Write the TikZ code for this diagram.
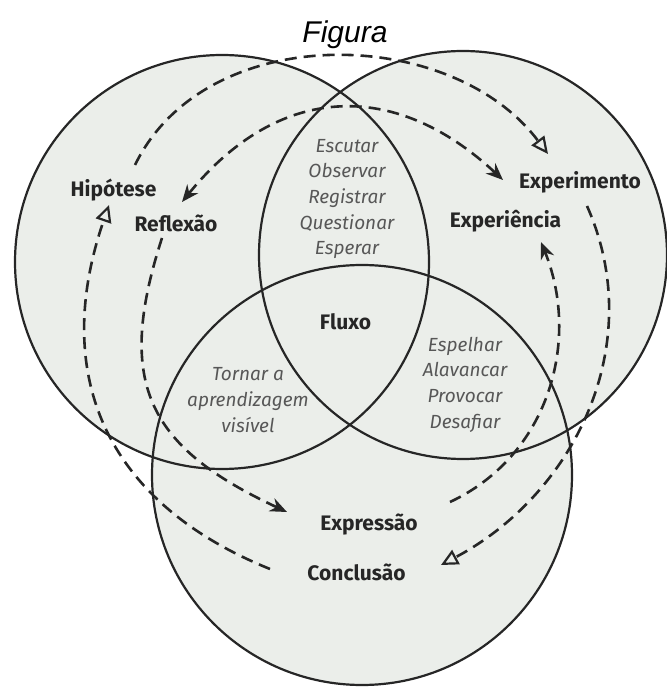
\documentclass[tikz,border=0pt]{standalone}
\usepackage{fontspec}
\setmainfont{Fira Sans}
\newfontfamily\titlefont{Liberation Sans}
\usetikzlibrary{arrows.meta}
\definecolor{ringfill}{HTML}{EBEEEA}
\definecolor{ink}{HTML}{262626}
\definecolor{soft}{HTML}{575757}
\tikzset{
  circ/.style={draw=ink, line width=2.2pt},
  lbl/.style={font=\fontsize{21}{25}\selectfont\bfseries, text=ink, inner sep=0pt, anchor=base},
  verbs/.style={font=\fontsize{19}{25.7}\selectfont\itshape, text=soft, align=center, inner sep=0pt},
  loopline/.style={draw=ink, line width=2.6pt, dash pattern=on 12pt off 7pt},
  outer/.style={loopline, -{Triangle[open, length=17pt, width=16pt, line width=2.2pt]}},
  inner/.style={loopline, -{Stealth[length=17pt, width=14pt]}},
  twoway/.style={loopline, {Stealth[length=17pt, width=14pt]}-{Stealth[length=17pt, width=14pt]}},
}
\begin{document}
\begin{tikzpicture}[x=1pt,y=1pt]
    \useasboundingbox (0,0) rectangle (667,689);

    \fill[ringfill] (222,427) circle (207);
    \fill[ringfill] (463,434) circle (204);
    \fill[ringfill] (362,214) circle (210);
    \draw[circ] (222,427) circle (207);
    \draw[circ] (463,434) circle (204);
    \draw[circ] (362,214) circle (210);

    \node[font=\fontsize{30}{34}\selectfont\titlefont\itshape, anchor=base] (title) at (345,646.5) {Figura};

    \node[lbl] (hip) at (113.5,492) {Hipótese};
    \node[lbl] (refl) at (176,457.5) {Reflexão};
    \node[lbl] (expm) at (580,500) {Experimento};
    \node[lbl] (expc) at (505.5,461) {Experiência};
    \node[lbl] (flux) at (345.5,359) {Fluxo};
    \node[lbl] (expr) at (369,158) {Expressão};
    \node[lbl] (concl) at (356.5,108) {Conclusão};

    \node[verbs] (top) at (347,490) {Escutar\\Observar\\Registrar\\Questionar\\Esperar};
    \node[verbs] (left) at (248,289) {Tornar a\\aprendizagem\\visível};
    \node[verbs] (right) at (465,304.5) {Espelhar\\Alavancar\\Provocar\\Desafiar};

    \coordinate (hipout) at (135,524);
    \coordinate (expmin) at (548,535);
    \coordinate (expmout) at (587,483);
    \coordinate (conclin) at (441,124);
    \coordinate (conclout) at (270,120);
    \coordinate (hipin) at (109,484);
    \coordinate (reflin) at (182,487);
    \coordinate (expmleft) at (503,509);
    \coordinate (reflout) at (162,451);
    \coordinate (exprin) at (287,177);
    \coordinate (exprout) at (450,187);
    \coordinate (expcin) at (541,447);

    % outer loop
    \draw[outer] (hipout) to[out=64,in=127] (expmin);
    \draw[outer] (expmout) to[out=-66,in=28] (conclin);
    \draw[outer] (conclout) to[out=158,in=-109,looseness=1.15] (hipin);

    % inner loop
    \draw[twoway] (reflin) to[out=51,in=137,looseness=1.2] (expmleft);
    \draw[inner] (reflout) to[out=-108,in=155,looseness=1.3] (exprin);
    \draw[inner] (exprout) to[out=25,in=-68] (expcin);
\end{tikzpicture}
\end{document}
